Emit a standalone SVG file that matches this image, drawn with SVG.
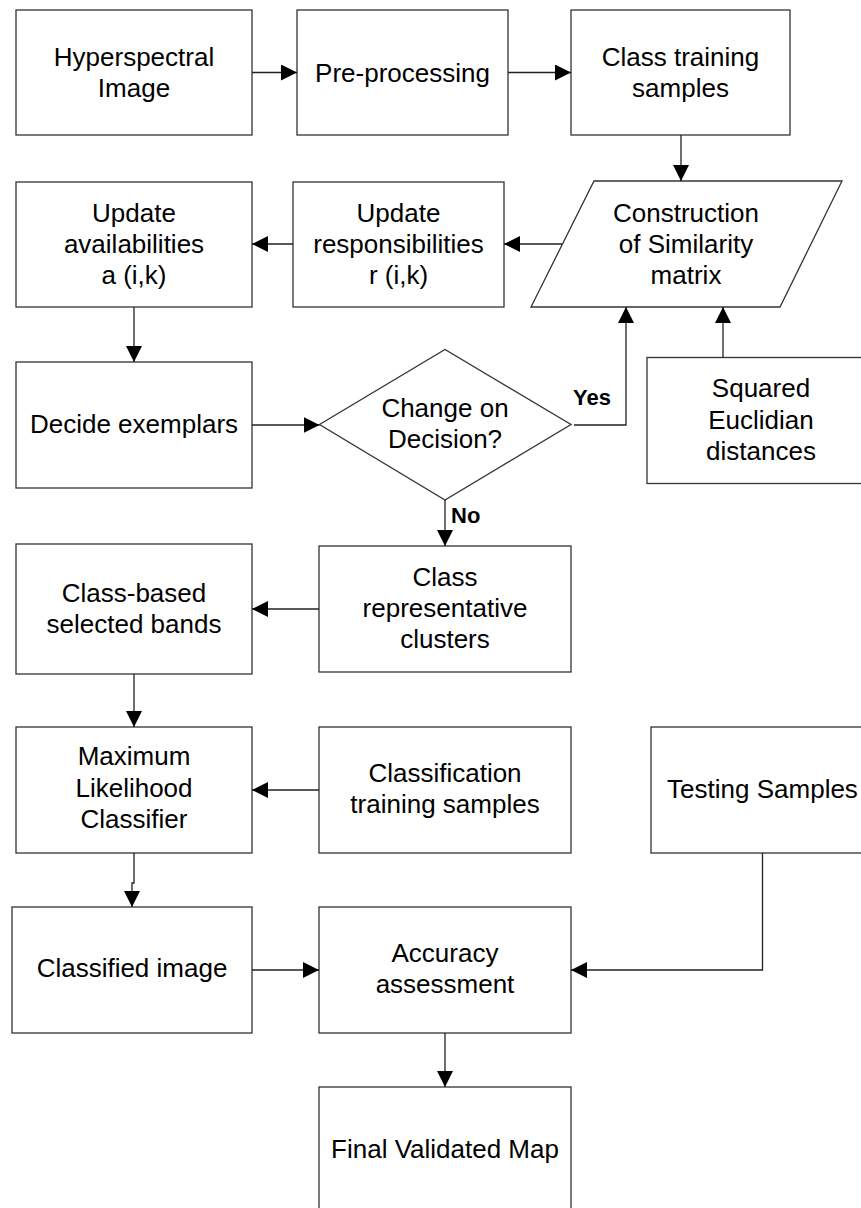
<svg xmlns="http://www.w3.org/2000/svg" width="861" height="1208" viewBox="0 0 861 1208">
<style>
.box{fill:#fff;stroke:#333;stroke-width:1.3}
.t{font-family:"Liberation Sans",Arial,sans-serif;font-size:26px;fill:#000;text-anchor:middle}
.lbl{font-family:"Liberation Sans",Arial,sans-serif;font-size:22px;font-weight:bold;fill:#000}
.c{fill:none;stroke:#222;stroke-width:1.3;marker-end:url(#ah)}
</style>
<defs>
<marker id="ah" markerUnits="userSpaceOnUse" markerWidth="16" markerHeight="16" refX="16" refY="8" orient="auto">
<path d="M0,0 L16,8 L0,16 z" fill="#000"/>
</marker>
</defs>
<rect width="861" height="1208" fill="#fff"/>
<g id="n-hyperspectral"><rect class="box" x="16" y="10" width="236" height="125"/><text class="t" x="134" y="66">Hyperspectral</text><text class="t" x="134" y="97">Image</text></g>
<g id="n-preprocessing"><rect class="box" x="297" y="10" width="211" height="125"/><text class="t" x="402.5" y="82">Pre-processing</text></g>
<g id="n-classtraining"><rect class="box" x="571" y="10" width="219" height="125"/><text class="t" x="680.5" y="66">Class training</text><text class="t" x="680.5" y="97">samples</text></g>
<g id="n-similarity"><polygon class="box" points="594,181 842,181 780,307 531,307"/><text class="t" x="686" y="222">Construction</text><text class="t" x="686" y="253">of Similarity</text><text class="t" x="686" y="284">matrix</text></g>
<g id="n-responsibilities"><rect class="box" x="293" y="182" width="211" height="125"/><text class="t" x="398.5" y="222">Update</text><text class="t" x="398.5" y="253">responsibilities</text><text class="t" x="398.5" y="284">r (i,k)</text></g>
<g id="n-availabilities"><rect class="box" x="16" y="182" width="236" height="125"/><text class="t" x="134" y="222">Update</text><text class="t" x="134" y="253">availabilities</text><text class="t" x="134" y="284">a (i,k)</text></g>
<g id="n-exemplars"><rect class="box" x="16" y="362" width="236" height="126"/><text class="t" x="134" y="433">Decide exemplars</text></g>
<g id="n-decision"><polygon class="box" points="319.5,424.5 445,349.5 571,424.5 445,500"/><text class="t" x="445" y="417">Change on</text><text class="t" x="445" y="448">Decision?</text></g>
<g id="n-squared"><rect class="box" x="647" y="357.5" width="228" height="126"/><text class="t" x="761" y="397">Squared</text><text class="t" x="761" y="428.5">Euclidian</text><text class="t" x="761" y="460">distances</text></g>
<g id="n-classrep"><rect class="box" x="319" y="546" width="252" height="126"/><text class="t" x="445" y="586">Class</text><text class="t" x="445" y="617">representative</text><text class="t" x="445" y="648">clusters</text></g>
<g id="n-classbased"><rect class="box" x="16" y="544" width="236" height="130"/><text class="t" x="134" y="602">Class-based</text><text class="t" x="134" y="633">selected bands</text></g>
<g id="n-ml"><rect class="box" x="16" y="727" width="236" height="126"/><text class="t" x="134" y="765">Maximum</text><text class="t" x="134" y="796.5">Likelihood</text><text class="t" x="134" y="828">Classifier</text></g>
<g id="n-classtrainsamples"><rect class="box" x="319" y="727" width="252" height="126"/><text class="t" x="445" y="781.5">Classification</text><text class="t" x="445" y="813">training samples</text></g>
<g id="n-testing"><rect class="box" x="651" y="727" width="223" height="126"/><text class="t" x="762.5" y="798">Testing Samples</text></g>
<g id="n-classified"><rect class="box" x="12" y="907" width="240" height="126"/><text class="t" x="132" y="977">Classified image</text></g>
<g id="n-accuracy"><rect class="box" x="319" y="907" width="252" height="126"/><text class="t" x="445" y="961.5">Accuracy</text><text class="t" x="445" y="993">assessment</text></g>
<g id="n-final"><rect class="box" x="319" y="1087" width="252" height="126"/><text class="t" x="445" y="1158">Final Validated Map</text></g>
<g id="connectors">
<path class="c" d="M252,72.5 H297"/>
<path class="c" d="M508,72.5 H571"/>
<path class="c" d="M681,135 V181"/>
<path class="c" d="M562,244 H504"/>
<path class="c" d="M293,244 H252"/>
<path class="c" d="M134,307 V362"/>
<path class="c" d="M252,425 H319.5"/>
<path class="c" d="M574,425 H626 V307"/>
<path class="c" d="M723,357.5 V307"/>
<path class="c" d="M445,500 V546"/>
<path class="c" d="M319,609 H252"/>
<path class="c" d="M134,674 V727"/>
<path class="c" d="M319,790 H252"/>
<path class="c" d="M134,853 V883 H132 V907"/>
<path class="c" d="M252,970 H319"/>
<path class="c" d="M762.5,853 V970 H571"/>
<path class="c" d="M445,1033 V1087"/>
<text class="lbl" x="573" y="405">Yes</text>
<text class="lbl" x="451" y="523">No</text>
</g>
</svg>
